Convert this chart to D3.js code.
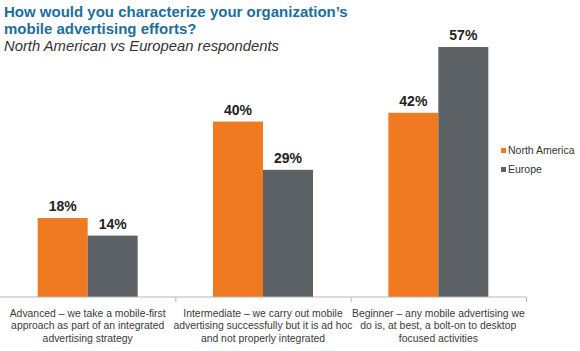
<!DOCTYPE html>
<html><head><meta charset="utf-8">
<script src="https://cdn.jsdelivr.net/npm/d3@7"></script>
<style>body{margin:0;background:#fff}svg{display:block}</style>
</head><body>
<svg id="c" width="580" height="351"></svg>
<script>
const categories = [
  ["Advanced – we take a mobile-first", "approach as part of an integrated", "advertising strategy"],
  ["Intermediate – we carry out mobile", "advertising successfully but it is ad hoc", "and not properly integrated"],
  ["Beginner – any mobile advertising we", "do is, at best, a bolt-on to desktop", "focused activities"]
];
const seriesNames = ["North America", "Europe"];
const northAmerica = [18, 40, 42];
const europe = [14, 29, 57];
const colors = ["#f07a22", "#5d6266"];

const svg = d3.select("#c");
const font = "Liberation Sans, Arial, Helvetica, sans-serif";

// Title
svg.append("text").attr("x", 4).attr("y", 17).attr("font-family", font).attr("font-weight", "bold")
  .attr("font-size", 15).attr("fill", "#1d6e9b").text("How would you characterize your organization’s");
svg.append("text").attr("x", 4).attr("y", 34).attr("font-family", font).attr("font-weight", "bold")
  .attr("font-size", 15).attr("fill", "#1d6e9b").text("mobile advertising efforts?");
svg.append("text").attr("x", 4).attr("y", 51).attr("font-family", font).attr("font-style", "italic")
  .attr("font-size", 14.8).attr("fill", "#333").text("North American vs European respondents");

const idx = d3.range(categories.length);
const x = d3.scaleBand().domain(idx).range([0, 526]).paddingInner(0).paddingOuter(0);
const xs = d3.scaleBand().domain([0, 1]).range([0, 100]);
const y = d3.scaleLinear().domain([0, 57]).range([297, 47]);

const groups = svg.append("g").selectAll("g").data(idx).join("g")
  .attr("transform", i => `translate(${x(i) + x.bandwidth() / 2 - 50},0)`);

const vals = [northAmerica, europe];
groups.each(function(i) {
  const g = d3.select(this);
  [0, 1].forEach(s => {
    const v = vals[s][i];
    g.append("rect").attr("x", xs(s)).attr("width", xs.bandwidth())
      .attr("y", y(v)).attr("height", y(0) - y(v)).attr("fill", colors[s]);
    g.append("text").attr("x", xs(s) + xs.bandwidth() / 2).attr("y", y(v) - 7)
      .attr("text-anchor", "middle").attr("font-family", font).attr("font-weight", "bold")
      .attr("font-size", 14).attr("fill", "#222").text(v + "%");
  });
});

// Axis
const axis = d3.axisBottom(d3.scaleLinear().domain([0, 3]).range([0, 526]))
  .tickValues([1, 2, 3]).tickSize(5).tickFormat("");
const ag = svg.append("g").attr("transform", "translate(0,297)").call(axis);
ag.selectAll("path,line").attr("stroke", "#b5b5b5");
ag.select(".domain").attr("d", "M0,0H526");

// Category labels
idx.forEach(i => {
  const t = svg.append("text").attr("text-anchor", "middle").attr("font-family", font)
    .attr("font-size", 10.4).attr("fill", "#3a3a3a");
  categories[i].forEach((line, k) => {
    t.append("tspan").attr("x", x(i) + x.bandwidth() / 2).attr("y", 317 + k * 12.3).text(line);
  });
});

// Legend
const lg = svg.append("g").attr("transform", "translate(501,0)");
seriesNames.forEach((n, s) => {
  const yy = 148 + s * 19;
  lg.append("rect").attr("x", 0).attr("y", yy).attr("width", 5).attr("height", 5).attr("fill", colors[s]);
  lg.append("text").attr("x", 7).attr("y", yy + 6).attr("font-family", font).attr("font-size", 10.5)
    .attr("fill", "#333").text(n);
});
</script>
</body></html>
